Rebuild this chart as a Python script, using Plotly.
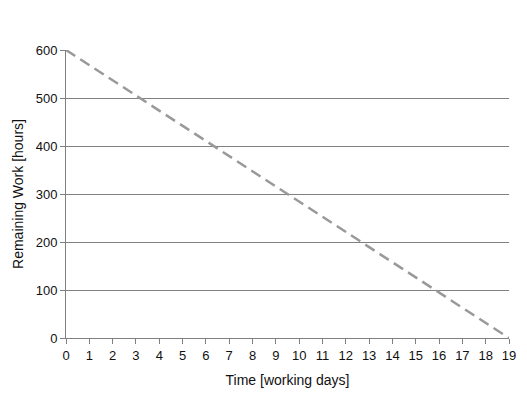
import plotly.graph_objects as go

days = [0, 19]
remaining = [600, 0]
x_ticks = list(range(0, 20))
y_ticks = [0, 100, 200, 300, 400, 500, 600]

fig = go.Figure()
fig.add_trace(go.Scatter(
    x=days, y=remaining, mode="lines",
    line=dict(color="#999999", width=2.5, dash="11px,6px"),
    showlegend=False, hoverinfo="skip"
))

axis_font = dict(family="Liberation Sans, Arial, sans-serif", size=13, color="#111")
fig.update_layout(
    width=519, height=387,
    margin=dict(l=58, r=18, t=42, b=57),
    paper_bgcolor="white", plot_bgcolor="white",
    font=axis_font,
    xaxis=dict(
        range=[0, 19], tickmode="array", tickvals=x_ticks,
        ticks="outside", ticklen=5, tickcolor="#808080",
        showline=True, linecolor="#808080", linewidth=1,
        showgrid=False, zeroline=False, automargin=False,
        title=dict(text="Time [working days]", font=dict(size=14), standoff=13),
    ),
    yaxis=dict(
        range=[0, 600], tickmode="array", tickvals=y_ticks,
        ticks="outside", ticklen=5, tickcolor="#808080",
        showline=True, linecolor="#808080", linewidth=1,
        showgrid=True, gridcolor="#808080", gridwidth=1,
        zeroline=False, automargin=False,
        title=dict(text="Remaining Work [hours]", font=dict(size=14), standoff=8),
    ),
)
fig.write_html("out.html")
